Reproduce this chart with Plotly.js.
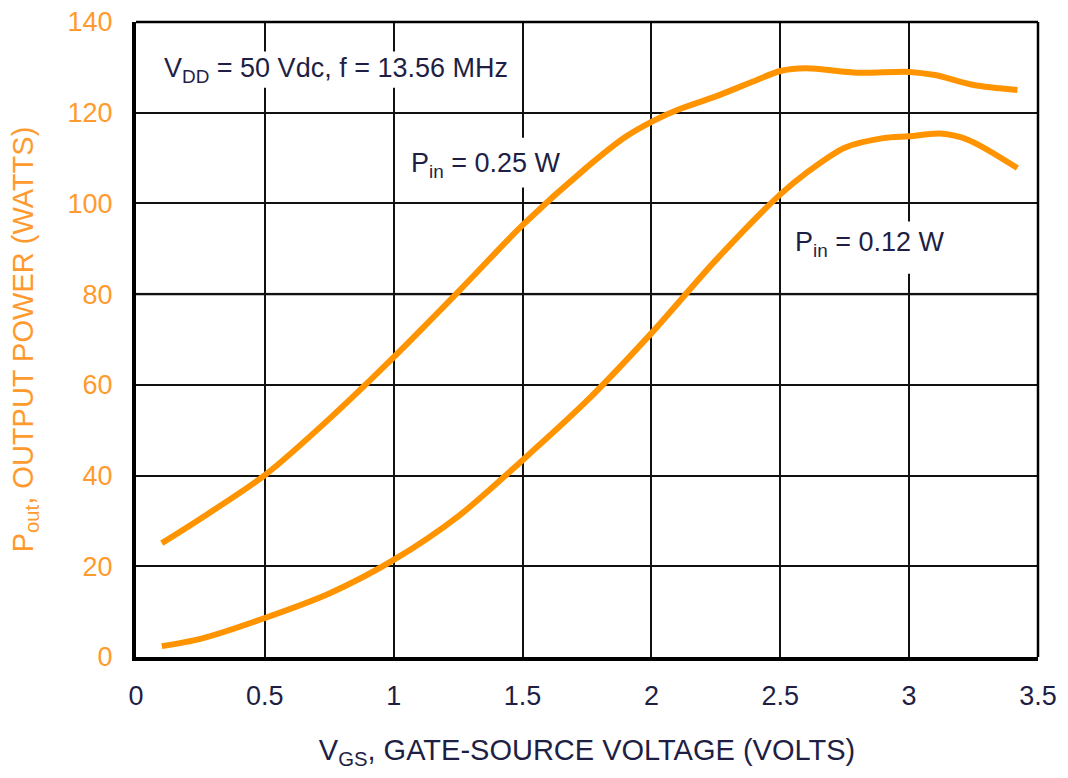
<!DOCTYPE html>
<html>
<head>
<meta charset="utf-8">
<script src="https://cdn.plot.ly/plotly-3.0.1.min.js"></script>
<style>
  html, body { margin: 0; padding: 0; background: #ffffff; }
  #chart { width: 1068px; height: 778px; }
</style>
</head>
<body>
<div id="chart"></div>
<script>
// Gate-source voltage (V) and output power (W) for Pin = 0.25 W
const vgsHigh = [0.1, 0.25, 0.5, 0.75, 1.0, 1.25, 1.5, 1.75, 1.9, 2.0, 2.1, 2.25, 2.4, 2.5, 2.6, 2.8, 3.0, 3.1, 3.25, 3.42];
const poutHigh = [25.1, 30.5, 40.1, 52.5, 66.1, 80.5, 95.2, 108.0, 114.7, 118.0, 120.6, 123.6, 127.0, 129.2, 129.8, 128.8, 129.0, 128.3, 126.1, 125.0];

// Gate-source voltage (V) and output power (W) for Pin = 0.12 W
const vgsLow = [0.1, 0.25, 0.5, 0.75, 1.0, 1.25, 1.5, 1.75, 2.0, 2.25, 2.5, 2.6, 2.75, 2.9, 3.0, 3.12, 3.23, 3.42];
const poutLow = [2.4, 4.0, 8.6, 14.0, 21.4, 31.0, 43.4, 56.5, 71.4, 87.5, 102.0, 106.7, 112.3, 114.4, 114.8, 115.4, 114.0, 107.8];

const xTicks = [0, 0.5, 1, 1.5, 2, 2.5, 3, 3.5];
const yTicks = [0, 20, 40, 60, 80, 100, 120, 140];

const labelHigh = "P<sub>in</sub> = 0.25 W";
const labelLow = "P<sub>in</sub> = 0.12 W";
const labelCond = "V<sub>DD</sub> = 50 Vdc, f = 13.56 MHz";
const xTitle = "V<sub>GS</sub>, GATE-SOURCE VOLTAGE (VOLTS)";
const yTitle = "P<sub>out</sub>, OUTPUT POWER (WATTS)";

const FONT = "'Liberation Sans Narrow', 'Arial Narrow', 'Liberation Sans', Arial, sans-serif";
const ORANGE = "#ff9400";
const NAVY = "#1f1f45";
const TICKORANGE = "#ff9a2e";

const traces = [
  { x: vgsHigh, y: poutHigh, mode: "lines", line: { color: ORANGE, width: 6, shape: "spline", smoothing: 0.8 }, hoverinfo: "skip", showlegend: false },
  { x: vgsLow, y: poutLow, mode: "lines", line: { color: ORANGE, width: 6, shape: "spline", smoothing: 0.8 }, hoverinfo: "skip", showlegend: false }
];

const layout = {
  width: 1068, height: 778,
  margin: { l: 136, r: 30, t: 22, b: 121 },
  paper_bgcolor: "#ffffff", plot_bgcolor: "#ffffff",
  font: { family: FONT, color: NAVY },
  xaxis: {
    range: [0, 3.5], tickvals: xTicks, ticktext: xTicks.map(String),
    showgrid: true, gridcolor: "#111111", gridwidth: 2,
    zeroline: false, showline: true, linecolor: "#000000", linewidth: 4,
    ticks: "", ticklabelstandoff: 12,
    tickfont: { family: FONT, size: 27, color: NAVY },
    title: { text: xTitle, font: { family: FONT, size: 29, color: NAVY }, standoff: 30 }
  },
  yaxis: {
    range: [0, 140], tickvals: yTicks, ticktext: yTicks.map(String),
    showgrid: true, gridcolor: "#111111", gridwidth: 2,
    zeroline: false, showline: true, linecolor: "#000000", linewidth: 4,
    ticks: "", ticklabelstandoff: 14,
    tickfont: { family: FONT, size: 27, color: TICKORANGE },
    title: { text: yTitle, font: { family: FONT, size: 29, color: TICKORANGE }, standoff: 26 }
  },
  shapes: [
    { type: "line", xref: "paper", yref: "y", x0: 0, x1: 1, y0: 80, y1: 80, line: { color: "#a8a8a8", width: 3 }, layer: "between" },
    { type: "rect", xref: "x", yref: "y", x0: 0.08, x1: 1.48, y0: 125.5, y1: 133.5, fillcolor: "#ffffff", line: { width: 0 }, layer: "between" },
    { type: "rect", xref: "x", yref: "y", x0: 1.05, x1: 1.67, y0: 103.5, y1: 114.5, fillcolor: "#ffffff", line: { width: 0 }, layer: "between" },
    { type: "rect", xref: "x", yref: "y", x0: 2.53, x1: 3.15, y0: 84.5, y1: 96, fillcolor: "#ffffff", line: { width: 0 }, layer: "between" },
    { type: "line", xref: "paper", yref: "paper", x0: 0, x1: 1, y0: 1, y1: 1, line: { color: "#000000", width: 2.5 } },
    { type: "line", xref: "paper", yref: "paper", x0: 1, x1: 1, y0: 0, y1: 1, line: { color: "#000000", width: 2.5 } }
  ],
  annotations: [
    { x: 0.1, y: 129.5, xref: "x", yref: "y", xanchor: "left", yanchor: "middle", text: labelCond, showarrow: false,
      font: { family: FONT, size: 27, color: NAVY } },
    { x: 1.06, y: 108.5, xref: "x", yref: "y", xanchor: "left", yanchor: "middle", text: labelHigh, showarrow: false,
      font: { family: FONT, size: 27, color: NAVY } },
    { x: 2.55, y: 91, xref: "x", yref: "y", xanchor: "left", yanchor: "middle", text: labelLow, showarrow: false,
      font: { family: FONT, size: 27, color: NAVY } }
  ]
};

Plotly.newPlot("chart", traces, layout, { staticPlot: true, displayModeBar: false });
</script>
</body>
</html>
